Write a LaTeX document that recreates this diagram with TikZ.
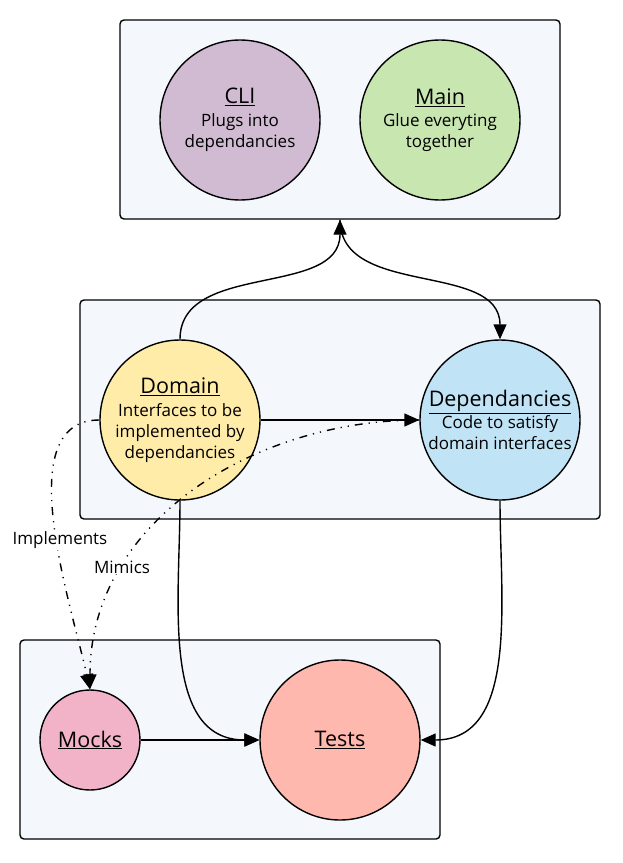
\documentclass[tikz,border=0pt]{standalone}
\usepackage{fontspec}
\setmainfont{Open Sans}
\usetikzlibrary{arrows.meta,positioning}
\definecolor{groupfill}{RGB}{244,248,252}
\definecolor{clifill}{RGB}{209,187,210}
\definecolor{mainfill}{RGB}{200,230,176}
\definecolor{domainfill}{RGB}{255,236,168}
\definecolor{depsfill}{RGB}{192,227,245}
\definecolor{mocksfill}{RGB}{242,179,200}
\definecolor{testsfill}{RGB}{255,184,174}
\newcommand{\comptitle}{\fontsize{21.5}{23}\selectfont}
\newcommand{\compbody}{\fontsize{17}{21}\selectfont}

\begin{document}
\begin{tikzpicture}[x=1pt, y=-1pt,
    group/.style={draw, rectangle, rounded corners=4pt, fill=groupfill, line width=1.4pt},
    comp/.style={draw, circle, line width=1.4pt, inner sep=0pt, align=center, font=\compbody},
    link/.style={-{Triangle[length=15pt,width=13pt]}, line width=1.4pt},
    hint/.style={link, dash pattern=on 8pt off 6pt on 1.2pt off 6pt on 1.2pt off 6pt},
    tag/.style={fill=white, inner sep=1pt, font=\compbody}]
    \useasboundingbox (0,0) rectangle (623,863);

    % Top group
    \node[group, minimum width=440pt, minimum height=199pt] (topgroup) at (340,119.5) {};
    \node[comp, fill=clifill, minimum size=160pt] (cli) at (240,120) {{\comptitle\underline{CLI}}\\[1.5pt]Plugs into\\dependancies};
    \node[comp, fill=mainfill, minimum size=160pt] (main) at (440,120) {{\comptitle\underline{Main}}\\[1.5pt]Glue everyting\\together};

    % Middle group
    \node[group, minimum width=520pt, minimum height=219pt] (midgroup) at (340,409.5) {};
    \node[comp, fill=domainfill, minimum size=160pt] (domain) at (180,420) {{\comptitle\underline{Domain}}\\[1.5pt]Interfaces to be\\implemented by\\dependancies};
    \node[comp, fill=depsfill, minimum size=160pt] (deps) at (500,420) {{\comptitle\underline{Dependancies}}\\[1.5pt]Code to satisfy\\domain interfaces};

    % Bottom group
    \node[group, minimum width=420pt, minimum height=199pt] (botgroup) at (230,739.5) {};
    \node[comp, fill=mocksfill, minimum size=100pt] (mocks) at (90,740) {\comptitle\underline{Mocks}};
    \node[comp, fill=testsfill, minimum size=160pt] (tests) at (340,740) {\comptitle\underline{Tests}};

    % Solid links
    \draw[link] (domain.north) to[out=90, in=-90] (topgroup.south);
    \draw[link] (topgroup.south) to[out=-90, in=90] (deps.north);
    \draw[link] (domain.east) -- (deps.west);
    \draw[link] (domain.south) to[out=-90, in=180] (tests.west);
    \draw[link] (deps.south) to[out=-90, in=0] (tests.east);
    \draw[link] (mocks.east) -- (tests.west);

    % Dash-dot links to mocks
    \draw[hint] (domain.west) .. controls (10,420) and (70,600) .. (mocks.north);
    \draw[hint] (deps.west) to[out=180, in=90] (mocks.north);
    \node[tag] (impltag) at (60,540) {Implements};
    \node[tag] (mimictag) at (122,567) {Mimics};
\end{tikzpicture}
\end{document}
